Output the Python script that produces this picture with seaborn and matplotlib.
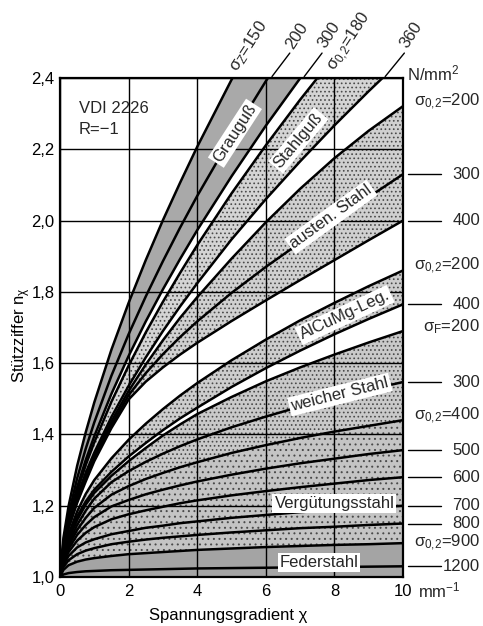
import matplotlib
matplotlib.use('Agg')
import matplotlib.pyplot as plt
import seaborn as sns

sns.set_theme(style='white')
plt.rcParams['font.family'] = ['Liberation Sans', 'DejaVu Sans']
plt.rcParams['mathtext.fontset'] = 'custom'
plt.rcParams['mathtext.rm'] = 'Liberation Sans'
plt.rcParams['mathtext.it'] = 'Liberation Sans'
plt.rcParams['mathtext.bf'] = 'Liberation Sans:bold'
plt.rcParams['hatch.linewidth'] = 0.7

# ---------------- data ----------------
X = [0, 0.1, 0.25, 0.5, 0.75, 1, 1.5, 2, 2.5, 3, 3.5, 4, 5, 6, 7, 8, 9, 10]

grauguss_150 = [1.0, 1.110, 1.199, 1.312, 1.406, 1.490, 1.638, 1.769, 1.889, 2.001, 2.106, 2.207, 2.395, 2.570, 2.736, 2.893, 3.044, 3.189]
grauguss_200 = [1.0, 1.097, 1.176, 1.277, 1.360, 1.434, 1.565, 1.681, 1.787, 1.886, 1.980, 2.069, 2.235, 2.391, 2.537, 2.677, 2.810, 2.939]
grauguss_300 = [1.0, 1.088, 1.160, 1.252, 1.328, 1.395, 1.514, 1.620, 1.717, 1.807, 1.892, 1.973, 2.124, 2.266, 2.399, 2.526, 2.648, 2.764]
stahlguss_180 = [1.0, 1.086, 1.154, 1.241, 1.314, 1.378, 1.492, 1.593, 1.686, 1.772, 1.853, 1.931, 2.076, 2.211, 2.339, 2.460, 2.577, 2.688]
stahlguss_360 = [1.0, 1.084, 1.148, 1.227, 1.292, 1.349, 1.449, 1.536, 1.616, 1.690, 1.759, 1.824, 1.947, 2.060, 2.166, 2.267, 2.363, 2.455]
austen_200 = [1.0, 1.082, 1.144, 1.221, 1.284, 1.340, 1.437, 1.522, 1.596, 1.664, 1.727, 1.785, 1.893, 1.995, 2.089, 2.175, 2.252, 2.321]
austen_300 = [1.0, 1.080, 1.140, 1.215, 1.276, 1.332, 1.427, 1.510, 1.572, 1.625, 1.673, 1.717, 1.797, 1.870, 1.938, 2.002, 2.066, 2.130]
austen_400 = [1.0, 1.078, 1.136, 1.208, 1.268, 1.325, 1.418, 1.498, 1.548, 1.588, 1.624, 1.657, 1.718, 1.776, 1.833, 1.889, 1.945, 2.000]
alcumg_200 = [1.0, 1.070, 1.120, 1.184, 1.233, 1.272, 1.333, 1.385, 1.430, 1.471, 1.509, 1.544, 1.608, 1.666, 1.720, 1.769, 1.816, 1.860]
alcumg_400 = [1.0, 1.066, 1.112, 1.170, 1.212, 1.245, 1.295, 1.338, 1.376, 1.412, 1.445, 1.475, 1.533, 1.586, 1.635, 1.681, 1.724, 1.765]
weich_200 = [1.0, 1.062, 1.105, 1.160, 1.203, 1.236, 1.284, 1.325, 1.362, 1.397, 1.428, 1.457, 1.505, 1.549, 1.588, 1.624, 1.658, 1.690]
weich_300 = [1.0, 1.056, 1.095, 1.146, 1.186, 1.220, 1.266, 1.297, 1.323, 1.346, 1.367, 1.386, 1.420, 1.450, 1.478, 1.502, 1.525, 1.547]
verg_400 = [1.0, 1.050, 1.087, 1.132, 1.166, 1.194, 1.231, 1.255, 1.275, 1.292, 1.308, 1.322, 1.348, 1.370, 1.390, 1.408, 1.424, 1.440]
verg_500 = [1.0, 1.045, 1.079, 1.118, 1.146, 1.168, 1.198, 1.216, 1.232, 1.245, 1.257, 1.268, 1.287, 1.304, 1.319, 1.332, 1.345, 1.356]
verg_600 = [1.0, 1.040, 1.070, 1.102, 1.124, 1.140, 1.162, 1.176, 1.187, 1.197, 1.207, 1.215, 1.229, 1.241, 1.252, 1.262, 1.272, 1.280]
verg_700 = [1.0, 1.034, 1.059, 1.083, 1.097, 1.106, 1.120, 1.129, 1.138, 1.144, 1.151, 1.156, 1.166, 1.174, 1.182, 1.188, 1.194, 1.200]
verg_800 = [1.0, 1.028, 1.047, 1.064, 1.074, 1.081, 1.092, 1.099, 1.105, 1.110, 1.114, 1.118, 1.125, 1.131, 1.137, 1.141, 1.146, 1.150]
feder_900 = [1.0, 1.020, 1.033, 1.043, 1.049, 1.053, 1.059, 1.064, 1.067, 1.070, 1.073, 1.076, 1.080, 1.084, 1.087, 1.090, 1.092, 1.095]
feder_1200 = [1.0, 1.007, 1.011, 1.014, 1.016, 1.017, 1.019, 1.020, 1.021, 1.022, 1.023, 1.024, 1.025, 1.026, 1.027, 1.028, 1.029, 1.030]

top_labels = ['σ$_Z$=150', '200', '300', 'σ$_{0{,}2}$=180', '360']
right_labels = ['σ$_{0{,}2}$=200', '300', '400', 'σ$_{0{,}2}$=200', '400', 'σ$_F$=200', '300',
                'σ$_{0{,}2}$=400', '500', '600', '700', '800', 'σ$_{0{,}2}$=900', '1200']
material_labels = ['Grauguß', 'Stahlguß', 'austen. Stahl', 'AlCuMg-Leg.',
                   'weicher Stahl', 'Vergütungsstahl', 'Federstahl']
xtick_values = [0, 2, 4, 6, 8, 10]
xtick_labels = ['0', '2', '4', '6', '8', '10']
ytick_values = [1.0, 1.2, 1.4, 1.6, 1.8, 2.0, 2.2, 2.4]
ytick_labels = ['1,0', '1,2', '1,4', '1,6', '1,8', '2,0', '2,2', '2,4']

all_curves = [grauguss_150, grauguss_200, grauguss_300, stahlguss_180, stahlguss_360,
              austen_200, austen_300, austen_400, alcumg_200, alcumg_400,
              weich_200, weich_300, verg_400, verg_500, verg_600, verg_700, verg_800,
              feder_900, feder_1200]
right_curves = all_curves[5:]
base = [1.0] * len(X)

# ---------------- figure ----------------
W, H = 483, 626
fig = plt.figure(figsize=(W / 100, H / 100), dpi=100)
ax = fig.add_axes([60 / W, 49 / H, 343 / W, 499 / H])
ax.set_xlim(0, 10)
ax.set_ylim(1.0, 2.4)


def band(lo, hi, fc, hatch=None):
    if hatch:
        ax.fill_between(X, lo, hi, facecolor=fc, edgecolor='#4a4a4a', hatch=hatch,
                        linewidth=0, zorder=1)
    else:
        ax.fill_between(X, lo, hi, facecolor=fc, linewidth=0, zorder=1)


band(grauguss_300, grauguss_150, '#a9a9a9')
band(stahlguss_360, stahlguss_180, '#d4d4d4', '....')
band(austen_400, austen_200, '#d0d0d0', '....')
band(alcumg_400, alcumg_200, '#cdcdcd', '....')
band(verg_400, weich_200, '#c9c9c9', '....')
band(feder_900, verg_400, '#c4c4c4', '...')
band(base, feder_900, '#a4a4a4')

# grid above fills, below curves
ax.set_axisbelow('line')
ax.grid(True, color='black', linewidth=1.0)

for c in all_curves:
    sns.lineplot(x=X, y=c, color='black', linewidth=1.8, ax=ax, sort=False,
                 legend=False, zorder=3)

for s in ax.spines.values():
    s.set_color('black')
    s.set_linewidth(1.6)
    s.set_zorder(6)

ax.set_xticks(xtick_values)
ax.set_xticklabels(xtick_labels)
ax.set_yticks(ytick_values)
ax.set_yticklabels(ytick_labels)
ax.tick_params(axis='both', length=0, labelsize=12, colors='black')
ax.tick_params(axis='y', pad=4)
ax.tick_params(axis='x', pad=5)

ax.set_xlabel('Spannungsgradient χ', fontsize=12, color='black')
ax.set_ylabel('Stützziffer n$_χ$', fontsize=12, color='black')
ax.xaxis.set_label_coords(0.49, -0.062)
ax.yaxis.set_label_coords(-0.078, 0.485)

# unit labels
ax.text(10.45, -0.026, 'mm$^{-1}$', transform=ax.get_xaxis_transform(),
        fontsize=12, ha='left', va='center', clip_on=False)
ax.text(10.12, 2.414, 'N/mm$^2$', fontsize=12, ha='left', va='center', clip_on=False)

# VDI note
ax.text(0.55, 2.315, 'VDI 2226', fontsize=12, ha='left', va='center', zorder=5)
ax.text(0.55, 2.255, 'R=\u22121', fontsize=12, ha='left', va='center', zorder=5)

# right side labels, at the curve end values
for lab, c in zip(right_labels, right_curves):
    y = c[-1]
    if lab.startswith('σ'):
        dy = 0.012 if y > 1.3 else 0.0
        ax.text(12.25, y + dy, lab, fontsize=12, ha='right', va='center', clip_on=False)
    else:
        ax.plot([10.15, 11.1], [y, y], color='black', lw=1.0, clip_on=False)
        ax.text(12.25, y, lab, fontsize=12, ha='right', va='center', clip_on=False)

# top labels (rotated)
top_anchor = [(5.16, 2.415), (6.80, 2.478), (7.73, 2.480), (8.00, 2.418), (10.12, 2.482)]
top_leader = [None, (6.18, 6.70), (7.12, 7.64), None, (9.48, 10.04)]
for lab, (tx, ty), ld in zip(top_labels, top_anchor, top_leader):
    if ld is not None:
        ax.plot([ld[0], ld[1]], [2.404, 2.470], color='black', lw=1.0, clip_on=False)
    ax.text(tx, ty, lab, fontsize=12, rotation=57, rotation_mode='anchor',
            ha='left', va='baseline', clip_on=False)

# material labels
box = dict(boxstyle='square,pad=0.12', facecolor='white', edgecolor='none')
mat_pos = [(5.10, 2.245, 57), (6.95, 2.225, 50), (7.90, 2.010, 36), (8.30, 1.735, 25),
           (8.16, 1.512, 14), (8.00, 1.205, 0), (7.55, 1.040, 0)]
for lab, (mx, my, rot) in zip(material_labels, mat_pos):
    ax.text(mx, my, lab, fontsize=12, rotation=rot, rotation_mode='anchor',
            ha='center', va='center', bbox=box, zorder=5)

fig.savefig('out.png', dpi=100)
